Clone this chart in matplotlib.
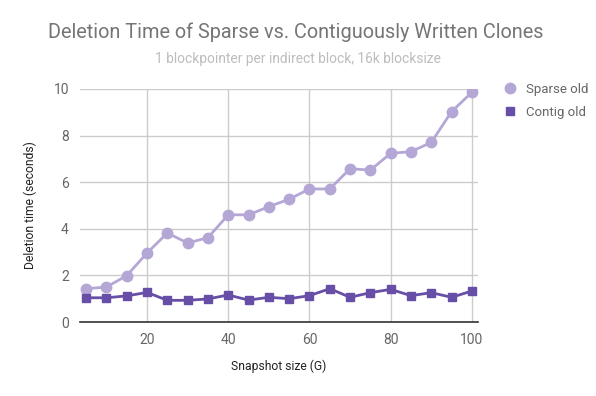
import matplotlib
matplotlib.use("Agg")
import matplotlib.pyplot as plt

sizes = [5, 10, 15, 20, 25, 30, 35, 40, 45, 50, 55, 60, 65, 70, 75, 80, 85, 90, 95, 100]
sparse_old = [1.43, 1.5, 1.99, 2.96, 3.82, 3.39, 3.62, 4.6, 4.6, 4.95, 5.27, 5.71, 5.71,
              6.58, 6.52, 7.24, 7.31, 7.71, 9.03, 9.86]
contig_old = [1.04, 1.04, 1.12, 1.27, 0.93, 0.93, 0.99, 1.16, 0.94, 1.06, 1.0, 1.13, 1.43,
              1.06, 1.26, 1.4, 1.13, 1.26, 1.06, 1.33]
xticks = [20, 40, 60, 80, 100]
yticks = [0, 2, 4, 6, 8, 10]

plt.rcParams['font.family'] = ['Roboto', 'DejaVu Sans']

W, H = 596, 396
fig = plt.figure(figsize=(W / 100, H / 100), dpi=100)
ax = fig.add_axes([80 / W, (H - 322) / H, (478 - 80) / W, (322 - 89) / H])

ax.plot(sizes, sparse_old, color='#b4a7d6', lw=2, marker='o', ms=7.5, label='Sparse old', zorder=3)
ax.plot(sizes, contig_old, color='#674ea7', lw=2, marker='s', ms=5.5, label='Contig old', zorder=4)

ax.set_xlim(3.5, 101.5)
ax.set_ylim(0, 10)
ax.set_xticks(xticks)
ax.set_yticks(yticks)
ax.grid(True, color='#cccccc', lw=1)
ax.set_axisbelow(True)
for s in ['top', 'right', 'left']:
    ax.spines[s].set_visible(False)
ax.spines['bottom'].set_color('#333333')
ax.spines['bottom'].set_linewidth(1.2)
ax.tick_params(length=0, labelsize=10, colors='#666666', pad=8)

ax.set_xlabel('Snapshot size (G)', fontsize=8.7, color='#222222', labelpad=9)
ax.set_ylabel('Deletion time (seconds)', fontsize=8.7, color='#222222', labelpad=12)

fig.text(296 / W, 1 - 32 / H, 'Deletion Time of Sparse vs. Contiguously Written Clones',
         ha='center', va='center', fontsize=14.3, color='#757575')
fig.text(298 / W, 1 - 59 / H, '1 blockpointer per indirect block, 16k blocksize',
         ha='center', va='center', fontsize=9.9, color='#bdbdbd')

ax.legend(loc='upper left', bbox_to_anchor=(492 / W, 1 - 71 / H), bbox_transform=fig.transFigure,
          frameon=False, fontsize=9.5, labelcolor='#666666', handlelength=1.0,
          handletextpad=0.7, labelspacing=0.75, markerscale=1.0)
leg = ax.get_legend()
for h in leg.legend_handles:
    h.set_linestyle('none')

fig.savefig('out.png', dpi=100)
